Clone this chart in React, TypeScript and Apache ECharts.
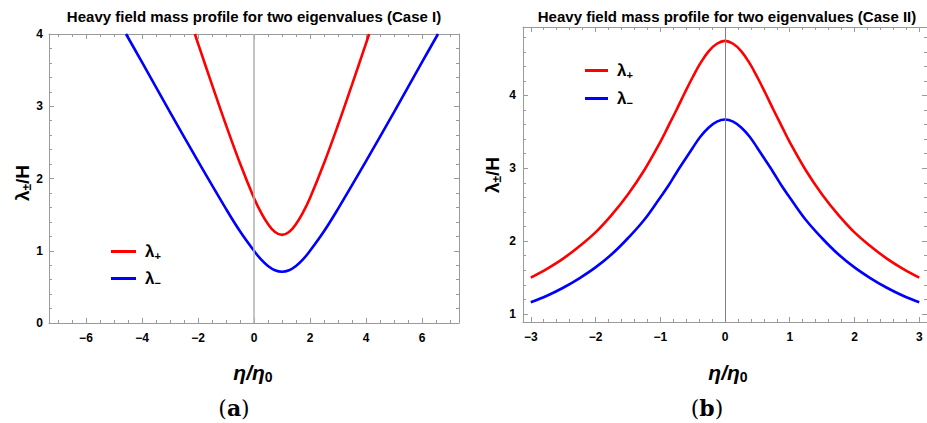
import React, { useEffect, useRef } from "react";
import * as echarts from "echarts";

// ---------- Data ----------
// Case I
const caseIPlusX = [-2.11, -2, -1.5, -1, -0.5, 0, 0.25, 0.5, 0.75, 1, 1.25, 1.5, 1.75, 2, 2.5, 3, 3.5, 4, 4.11];
const caseIPlusY = [4.0, 3.87, 3.3, 2.74, 2.21, 1.73, 1.53, 1.37, 1.26, 1.22, 1.26, 1.37, 1.53, 1.73, 2.21, 2.74, 3.3, 3.87, 4.0];
const caseIMinusX = [-4.57, -4, -3, -2, -1, -0.5, 0, 0.25, 0.5, 0.75, 1, 1.25, 1.5, 1.75, 2, 2.5, 3, 4, 5, 6, 6.57];
const caseIMinusY = [4.0, 3.61, 2.92, 2.24, 1.58, 1.27, 1.0, 0.88, 0.79, 0.73, 0.71, 0.73, 0.79, 0.88, 1.0, 1.27, 1.58, 2.24, 2.92, 3.61, 4.0];

// Case II
const caseIIX = [-3, -2.75, -2.5, -2.25, -2, -1.75, -1.5, -1.25, -1, -0.875, -0.75, -0.625, -0.5, -0.375, -0.25, -0.125, 0, 0.125, 0.25, 0.375, 0.5, 0.625, 0.75, 0.875, 1, 1.25, 1.5, 1.75, 2, 2.25, 2.5, 2.75, 3];
const caseIIPlusY = [1.5, 1.62, 1.76, 1.93, 2.12, 2.36, 2.64, 2.97, 3.36, 3.58, 3.8, 4.03, 4.25, 4.45, 4.61, 4.71, 4.75, 4.71, 4.61, 4.45, 4.25, 4.03, 3.8, 3.58, 3.36, 2.97, 2.64, 2.36, 2.12, 1.93, 1.76, 1.62, 1.5];
const caseIIMinusY = [1.16, 1.25, 1.36, 1.49, 1.64, 1.82, 2.04, 2.29, 2.6, 2.76, 2.94, 3.11, 3.28, 3.44, 3.56, 3.64, 3.67, 3.64, 3.56, 3.44, 3.28, 3.11, 2.94, 2.76, 2.6, 2.29, 2.04, 1.82, 1.64, 1.49, 1.36, 1.25, 1.16];

// Ticks
const caseIXTicks = [-6, -4, -2, 0, 2, 4, 6];
const caseIYTicks = [0, 1, 2, 3, 4];
const caseIIXTicks = [-3, -2, -1, 0, 1, 2, 3];
const caseIIYTicks = [1, 2, 3, 4];

const titles = [
  "Heavy field mass profile for two eigenvalues (Case I)",
  "Heavy field mass profile for two eigenvalues (Case II)",
];

const FONT = "'Liberation Sans', Arial, sans-serif";
const SERIF = "'DejaVu Serif', 'Liberation Serif', serif";
const FRAME = "#9a9a9a";

function minorTicks(from: number, to: number, step: number, majors: number[]) {
  const out: number[] = [];
  const n = Math.round((to - from) / step);
  for (let i = 0; i <= n; i++) {
    const v = Math.round((from + i * step) * 1000) / 1000;
    if (!majors.some((m) => Math.abs(m - v) < 1e-6)) out.push(v);
  }
  return out;
}

const fmt = (v: number) => (v < 0 ? "\u2212" + Math.abs(v) : String(v));

function axesFor(
  kind: "x" | "y",
  gridIndex: number,
  min: number,
  max: number,
  majors: number[],
  minors: number[],
  labelMargin: number
) {
  const posA = kind === "x" ? "bottom" : "left";
  const posB = kind === "x" ? "top" : "right";
  const base = { type: "value", gridIndex, min, max, splitLine: { show: false } };
  const tick = (vals: number[], len: number) => ({
    show: true,
    inside: true,
    length: len,
    customValues: vals,
    lineStyle: { color: FRAME, width: 1 },
  });
  const main = {
    ...base,
    position: posA,
    axisLine: { show: true, onZero: false, lineStyle: { color: FRAME, width: 1 } },
    axisTick: tick(majors, 5),
    axisLabel: {
      show: true,
      customValues: majors,
      formatter: fmt,
      margin: labelMargin,
      color: "#000",
      fontWeight: "bold",
      fontSize: 12,
      fontFamily: FONT,
    },
  };
  const minorA = {
    ...base,
    position: posA,
    axisLine: { show: false, onZero: false },
    axisTick: tick(minors, 3),
    axisLabel: { show: false },
  };
  const topMajor = {
    ...base,
    position: posB,
    axisLine: { show: true, onZero: false, lineStyle: { color: FRAME, width: 1 } },
    axisTick: tick(majors, 5),
    axisLabel: { show: false },
  };
  const topMinor = {
    ...base,
    position: posB,
    axisLine: { show: false, onZero: false },
    axisTick: tick(minors, 3),
    axisLabel: { show: false },
  };
  return [main, minorA, topMajor, topMinor];
}

const lambdaRich = {
  l: { fontSize: 17, fontWeight: "bold", fontFamily: FONT, color: "#000", fill: "#000" },
  s: { fontSize: 11, fontWeight: "bold", fontFamily: FONT, color: "#000", fill: "#000", verticalAlign: "bottom", padding: [8, 0, 0, 0] },
};

export default function App() {
  const ref = useRef<HTMLDivElement>(null);
  useEffect(() => {
    if (!ref.current) return;
    const chart = echarts.init(ref.current, undefined, { renderer: "svg" });

    const xI = axesFor("x", 0, -7.32, 7.32, caseIXTicks, minorTicks(-7, 7, 0.5, caseIXTicks), 9);
    const yI = axesFor("y", 0, 0, 4, caseIYTicks, minorTicks(0, 4, 0.2, caseIYTicks), 6);
    const xII = axesFor("x", 1, -3.12, 3.12, caseIIXTicks, minorTicks(-3, 3, 0.2, caseIIXTicks), 9);
    const yII = axesFor("y", 1, 0.89, 4.94, caseIIYTicks, minorTicks(1, 4.8, 0.2, caseIIYTicks), 7);

    const zeroLine = (color: string, width: number) => ({
      silent: true,
      symbol: "none",
      label: { show: false },
      lineStyle: { color, width, type: "solid" },
      data: [{ xAxis: 0 }],
    });

    const lineSeries = (name: string, xs: number[], ys: number[], color: string, xIdx: number, yIdx: number, extra: any = {}) => ({
      name,
      type: "line",
      xAxisIndex: xIdx,
      yAxisIndex: yIdx,
      data: xs.map((x, i) => [x, ys[i]]),
      smooth: 0.4,
      showSymbol: false,
      symbol: "none",
      clip: true,
      lineStyle: { color, width: 2.6 },
      itemStyle: { color },
      z: 3,
      ...extra,
    });

    const legendFormatter = (name: string) => (name.startsWith("plus") ? "{l|λ}{s|+}" : "{l|λ}{s|\u2212}");

    const graphicText = (x: number, y: number, text: string, rich: any, font: string, rotation = 0) => ({
      type: "text",
      x,
      y,
      rotation,
      style: {
        text,
        font,
        fill: "#000",
        align: "center",
        verticalAlign: "middle",
        textAlign: "center",
        textVerticalAlign: "middle",
        rich,
      },
    });

    const yRich = {
      a: { fontSize: 19, fontWeight: "bold", fontFamily: FONT, fill: "#000" },
      b: { fontSize: 12, fontWeight: "bold", fontFamily: FONT, fill: "#000", verticalAlign: "bottom", padding: [10, 0, 0, 0] },
    };
    const xRich = {
      a: { fontSize: 21, fontWeight: "bold", fontStyle: "italic", fontFamily: FONT, fill: "#000" },
      b: { fontSize: 14, fontWeight: "bold", fontFamily: FONT, fill: "#000", verticalAlign: "bottom", padding: [10, 0, 0, 0] },
    };
    const capRich = {
      p: { fontSize: 22, fontFamily: SERIF, fill: "#000" },
      q: { fontSize: 22, fontWeight: "bold", fontFamily: SERIF, fill: "#000" },
    };

    chart.setOption({
      animation: false,
      backgroundColor: "#fff",
      grid: [
        { left: 49, top: 34, width: 410, height: 289, containLabel: false },
        { left: 523, top: 27, width: 410, height: 295, containLabel: false },
      ],
      xAxis: [...xI, ...xII],
      yAxis: [...yI, ...yII],
      legend: [
        {
          orient: "vertical",
          left: 106,
          top: 238,
          itemWidth: 25,
          itemHeight: 3,
          itemGap: 9,
          icon: "rect",
          data: ["plusI", "minusI"],
          formatter: legendFormatter,
          selectedMode: false,
          textStyle: { rich: lambdaRich, padding: [0, 0, 0, 4] },
        },
        {
          orient: "vertical",
          left: 580,
          top: 57,
          itemWidth: 23,
          itemHeight: 3,
          itemGap: 10,
          icon: "rect",
          data: ["plusII", "minusII"],
          formatter: legendFormatter,
          selectedMode: false,
          textStyle: { rich: lambdaRich, padding: [0, 0, 0, 4] },
        },
      ],
      series: [
        lineSeries("plusI", caseIPlusX, caseIPlusY, "#ff0000", 0, 0, { markLine: zeroLine("#b0b0b0", 1.5) }),
        lineSeries("minusI", caseIMinusX, caseIMinusY, "#0000ff", 0, 0),
        lineSeries("plusII", caseIIX, caseIIPlusY, "#ff0000", 4, 4, { markLine: zeroLine("#808080", 1) }),
        lineSeries("minusII", caseIIX, caseIIMinusY, "#0000ff", 4, 4),
      ],
      graphic: [
        graphicText(254, 16, titles[0], undefined, `bold 15px ${FONT}`),
        graphicText(727, 16, titles[1], undefined, `bold 15px ${FONT}`),
        graphicText(22, 183, "{a|λ}{b|±}{a|/H}", yRich, `bold 19px ${FONT}`, Math.PI / 2),
        graphicText(492, 175, "{a|λ}{b|±}{a|/H}", yRich, `bold 19px ${FONT}`, Math.PI / 2),
        graphicText(253, 372, "{a|η/η}{b|0}", xRich, `bold italic 21px ${FONT}`),
        graphicText(728, 372, "{a|η/η}{b|0}", xRich, `bold italic 21px ${FONT}`),
        graphicText(234, 408, "{p|(}{q|a}{p|)}", capRich, `22px ${SERIF}`),
        graphicText(707, 408, "{p|(}{q|b}{p|)}", capRich, `22px ${SERIF}`),
      ],
    });
    return () => chart.dispose();
  }, []);
  return (
    <div
      ref={ref}
      style={{ position: "fixed", left: 0, top: 0, width: 927, height: 423, background: "#fff" }}
    />
  );
}
